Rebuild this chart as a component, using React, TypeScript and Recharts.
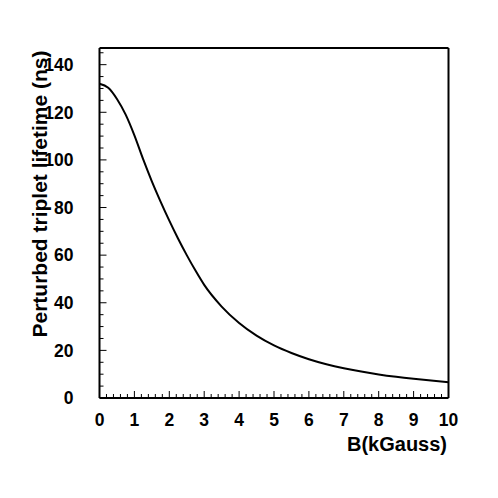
import { LineChart, Line, XAxis, YAxis, ReferenceLine } from 'recharts';

// magnetic field (kGauss) and perturbed triplet lifetime (ns)
const fieldKG = [0, 0.25, 0.5, 0.75, 1, 1.25, 1.5, 1.75, 2, 2.25, 2.5, 2.75, 3, 3.5, 4, 4.5, 5, 5.5, 6, 6.5, 7, 7.5, 8, 8.5, 9, 9.5, 10];
const lifetimeNs = [132, 130.3, 125.6, 119, 110.3, 100.3, 91, 82.5, 74.5, 67, 60, 53.5, 47.5, 38.4, 31.5, 26.2, 22.1, 18.9, 16.3, 14.2, 12.5, 11.1, 9.9, 8.9, 8.05, 7.3, 6.65];

const xMajor = [0, 1, 2, 3, 4, 5, 6, 7, 8, 9, 10];
const xTicks = Array.from({ length: 51 }, (_, i) => i / 5);
const yMajor = [0, 20, 40, 60, 80, 100, 120, 140];
const yTicks = Array.from({ length: 30 }, (_, i) => i * 5);

const data = fieldKG.map((b, i) => ({ b, tau: lifetimeNs[i] }));

const FONT = '"Liberation Sans", Arial, Helvetica, sans-serif';

const isMajor = (v: number, majors: number[]) => majors.some((m) => Math.abs(m - v) < 1e-6);

function YTick(props: any) {
  const { x, y, payload } = props;
  const major = isMajor(payload.value, yMajor);
  return (
    <g>
      <line x1={x} x2={x + (major ? 7 : 4)} y1={y} y2={y} stroke="#000" strokeWidth={1} />
      {major && (
        <text x={x - 26} y={y + 6.3} textAnchor="end" fontFamily={FONT} fontWeight="bold" fontSize={17.5} fill="#000">
          {payload.value}
        </text>
      )}
    </g>
  );
}

function XTick(props: any) {
  const { x, y, payload } = props;
  const major = isMajor(payload.value, xMajor);
  return (
    <g>
      <line x1={x} x2={x} y1={y} y2={y - (major ? 7 : 4)} stroke="#000" strokeWidth={1} />
      {major && (
        <text x={x} y={y + 28} textAnchor="middle" fontFamily={FONT} fontWeight="bold" fontSize={17.5} fill="#000">
          {Math.round(payload.value)}
        </text>
      )}
    </g>
  );
}

function XTitle() {
  return (
    <text x={447} y={451} textAnchor="end" fontFamily={FONT} fontWeight="bold" fontSize={20} fill="#000">
      B(kGauss)
    </text>
  );
}

function YTitle() {
  return (
    <text
      x={46.5}
      y={194}
      transform="rotate(-90, 46.5, 194)"
      textAnchor="middle"
      fontFamily={FONT}
      fontWeight="bold"
      fontSize={21}
      fill="#000"
    >
      Perturbed triplet lifetime (ns)
    </text>
  );
}

export default function App() {
  return (
    <div style={{ position: 'absolute', left: 0, top: 0, width: 498, height: 498, background: '#fff' }}>
      <LineChart width={498} height={498} data={data} margin={{ top: 48, right: 49.5, left: 0, bottom: 0 }}>
        <XAxis
          dataKey="b"
          type="number"
          domain={[0, 10]}
          ticks={xTicks}
          interval={0}
          height={100}
          tickSize={0}
          tickMargin={0}
          tickLine={false}
          axisLine={{ stroke: '#000', strokeWidth: 2 }}
          tick={<XTick />}
          label={<XTitle />}
        />
        <YAxis
          type="number"
          domain={[0, 147]}
          ticks={yTicks}
          interval={0}
          width={99.5}
          tickSize={0}
          tickMargin={0}
          tickLine={false}
          axisLine={{ stroke: '#000', strokeWidth: 2 }}
          tick={<YTick />}
          label={<YTitle />}
        />
        <ReferenceLine y={147} stroke="#000" strokeWidth={2} />
        <ReferenceLine x={10} stroke="#000" strokeWidth={2} />
        <Line
          type="monotone"
          dataKey="tau"
          stroke="#000"
          strokeWidth={2}
          dot={false}
          isAnimationActive={false}
        />
      </LineChart>
    </div>
  );
}
